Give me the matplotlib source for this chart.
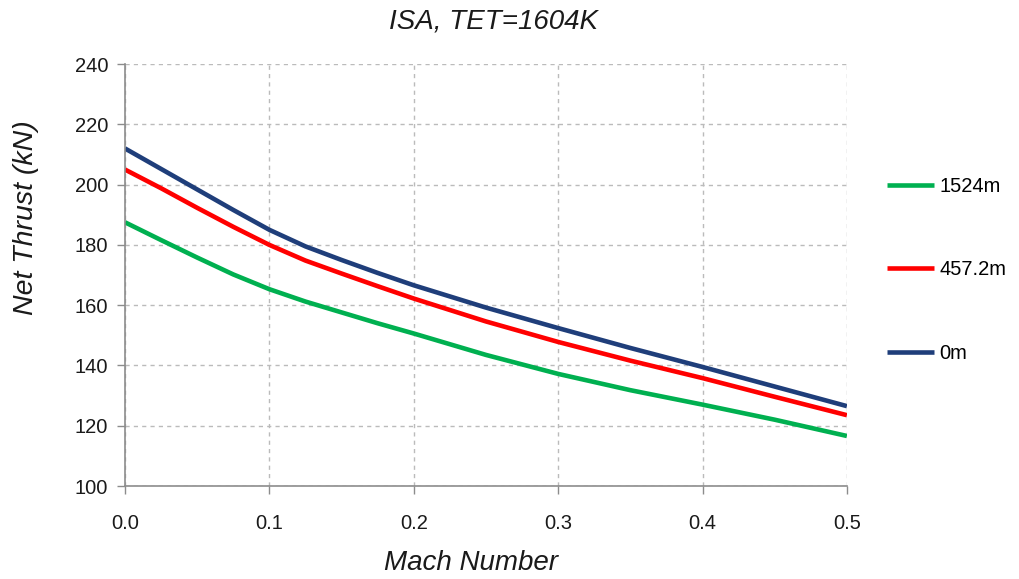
import matplotlib
matplotlib.use("Agg")
import matplotlib.pyplot as plt

plt.rcParams['font.family'] = ['Liberation Sans', 'DejaVu Sans']

mach = [0.0, 0.025, 0.05, 0.075, 0.1, 0.125, 0.15, 0.175, 0.2, 0.25, 0.3, 0.35, 0.4, 0.45, 0.5]
thrust_0m = [212.0, 205.2, 198.4, 191.6, 185.0, 179.5, 175.0, 170.7, 166.6, 159.2, 152.4, 145.8, 139.5, 133.0, 126.5]
thrust_457m = [205.0, 198.8, 192.3, 186.0, 180.0, 174.8, 170.5, 166.3, 162.2, 154.6, 147.8, 141.6, 135.8, 129.6, 123.5]
thrust_1524m = [187.5, 181.6, 175.8, 170.2, 165.3, 161.2, 157.6, 154.0, 150.6, 143.5, 137.2, 131.8, 127.0, 122.0, 116.6]
series_labels = ['1524m', '457.2m', '0m']
xticks = [0.0, 0.1, 0.2, 0.3, 0.4, 0.5]
yticks = [100, 120, 140, 160, 180, 200, 220, 240]

fig = plt.figure(figsize=(10.2, 5.79), dpi=100)
ax = fig.add_axes([0.1225, 0.1606, 0.7078, 0.7288])

colors = ['#00B050', '#FF0000', '#1F3E7A']
for ys, lab, c in zip([thrust_1524m, thrust_457m, thrust_0m], series_labels, colors):
    ax.plot(mach, ys, color=c, lw=3.3, label=lab, solid_capstyle='butt', solid_joinstyle='round')

ax.set_xlim(0, 0.5)
ax.set_ylim(100, 240)
ax.set_xticks(xticks)
ax.set_xticklabels([f"{v:.1f}" for v in xticks])
ax.set_yticks(yticks)
ax.grid(True, color='#BBBBBB', linestyle=(0, (3, 3)), linewidth=1)
for s in ['top', 'right']:
    ax.spines[s].set_visible(False)
for s in ['left', 'bottom']:
    ax.spines[s].set_color('#8C8C8C')
    ax.spines[s].set_linewidth(1.2)
ax.tick_params(axis='both', colors='#8C8C8C', labelcolor='#1A1A1A', labelsize=14.5, length=6, width=1)
ax.tick_params(axis='x', pad=14)
ax.tick_params(axis='y', pad=6)

txtc = '#1A1A1A'
fig.text(494 / 1020, 1 - 21 / 579, 'ISA, TET=1604K', fontsize=20, style='italic',
         color=txtc, ha='center', va='center')
fig.text(471 / 1020, 1 - 563 / 579, 'Mach Number', fontsize=20, style='italic',
         color=txtc, ha='center', va='center')
fig.text(26 / 1020, 1 - 218 / 579, 'Net Thrust (kN)', fontsize=20.5, style='italic',
         color=txtc, ha='center', va='center', rotation=90)

ax.legend(loc='upper left', bbox_to_anchor=(887 / 1020, 1 - 177 / 579), bbox_transform=fig.transFigure,
          frameon=False, fontsize=14.5, labelspacing=3.2, handlelength=2.35, handletextpad=0.25,
          borderaxespad=0, borderpad=0)

fig.savefig('out.png', dpi=100)
